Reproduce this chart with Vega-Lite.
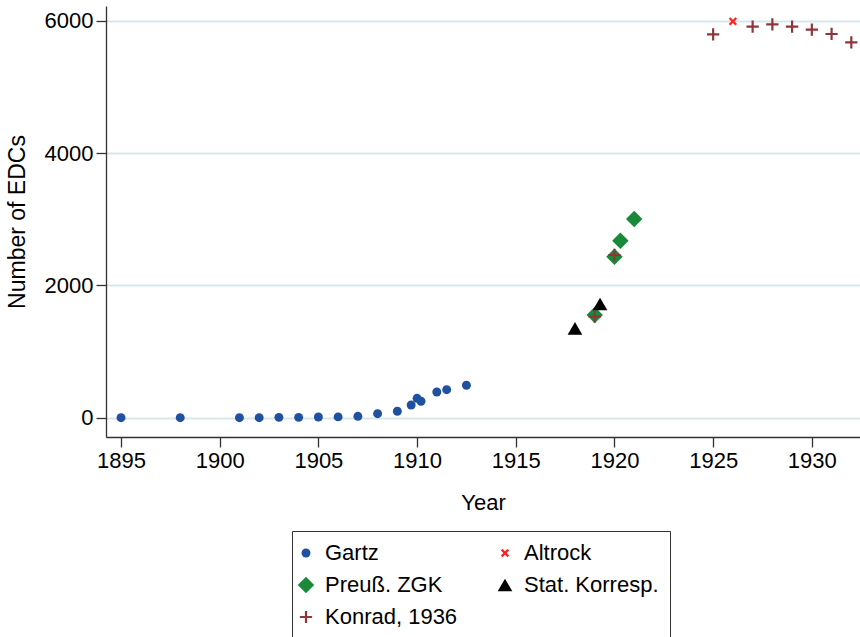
{
  "$schema": "https://vega.github.io/schema/vega-lite/v6.json",
  "autosize": "none",
  "width": 754,
  "height": 431,
  "padding": {"left": 106, "top": 6, "right": 0, "bottom": 200},
  "background": "white",
  "config": {
    "view": {"stroke": null},
    "font": "Liberation Sans",
    "axis": {
      "labelFont": "Liberation Sans",
      "titleFont": "Liberation Sans",
      "labelFontSize": 22,
      "titleFontSize": 22,
      "titleFontWeight": "normal",
      "labelColor": "#000000",
      "titleColor": "#000000",
      "domainColor": "#333333",
      "domainWidth": 1.3,
      "tickColor": "#333333",
      "tickWidth": 1.3,
      "tickSize": 10
    },
    "legend": {
      "labelFont": "Liberation Sans",
      "labelFontSize": 22,
      "labelColor": "#000000",
      "symbolOpacity": 1
    }
  },
  "data": {
    "values": [
      {"source": "Gartz", "year": 1895, "n": 0},
      {"source": "Gartz", "year": 1898, "n": 0},
      {"source": "Gartz", "year": 1901, "n": 0},
      {"source": "Gartz", "year": 1902, "n": 0},
      {"source": "Gartz", "year": 1903, "n": 5},
      {"source": "Gartz", "year": 1904, "n": 5},
      {"source": "Gartz", "year": 1905, "n": 10},
      {"source": "Gartz", "year": 1906, "n": 12},
      {"source": "Gartz", "year": 1907, "n": 21},
      {"source": "Gartz", "year": 1908, "n": 60},
      {"source": "Gartz", "year": 1909, "n": 97},
      {"source": "Gartz", "year": 1909.7, "n": 192},
      {"source": "Gartz", "year": 1910, "n": 293},
      {"source": "Gartz", "year": 1910.2, "n": 248},
      {"source": "Gartz", "year": 1911, "n": 388},
      {"source": "Gartz", "year": 1911.5, "n": 423},
      {"source": "Gartz", "year": 1912.5, "n": 490},
      {"source": "Preuß. ZGK", "year": 1919, "n": 1552},
      {"source": "Preuß. ZGK", "year": 1920, "n": 2433},
      {"source": "Preuß. ZGK", "year": 1920.3, "n": 2675},
      {"source": "Preuß. ZGK", "year": 1921, "n": 3003},
      {"source": "Stat. Korresp.", "year": 1918, "n": 1351},
      {"source": "Stat. Korresp.", "year": 1919.27, "n": 1718},
      {"source": "Altrock", "year": 1926, "n": 5990},
      {"source": "Konrad, 1936", "year": 1919, "n": 1526},
      {"source": "Konrad, 1936", "year": 1920, "n": 2459},
      {"source": "Konrad, 1936", "year": 1925, "n": 5794},
      {"source": "Konrad, 1936", "year": 1927, "n": 5909},
      {"source": "Konrad, 1936", "year": 1928, "n": 5945},
      {"source": "Konrad, 1936", "year": 1929, "n": 5909},
      {"source": "Konrad, 1936", "year": 1930, "n": 5864},
      {"source": "Konrad, 1936", "year": 1931, "n": 5799},
      {"source": "Konrad, 1936", "year": 1932, "n": 5673}
    ]
  },
  "mark": {"type": "point", "strokeWidth": 2.2, "opacity": 1},
  "encoding": {
    "x": {
      "field": "year",
      "type": "quantitative",
      "title": "Year",
      "scale": {"domain": [1894.24, 1932.44], "nice": false, "zero": false},
      "axis": {
        "values": [1895, 1900, 1905, 1910, 1915, 1920, 1925, 1930],
        "format": "d",
        "grid": false,
        "labelPadding": 3,
        "titlePadding": 21
      }
    },
    "y": {
      "field": "n",
      "type": "quantitative",
      "title": "Number of EDCs",
      "scale": {"domain": [-292, 6222], "nice": false, "zero": false},
      "axis": {
        "values": [0, 2000, 4000, 6000],
        "format": "d",
        "grid": true,
        "gridColor": "#d7e7e9",
        "gridWidth": 2,
        "labelPadding": 3,
        "titlePadding": 15,
        "titleFontSize": 23
      }
    },
    "fill": {
      "field": "source",
      "type": "nominal",
      "scale": {
        "domain": ["Gartz", "Preuß. ZGK", "Konrad, 1936", "Altrock", "Stat. Korresp."],
        "range": ["#1f51a0", "#1a8a3a", "transparent", "transparent", "#000000"]
      },
      "legend": {
        "title": null,
        "orient": "none",
        "legendX": 186,
        "legendY": 525,
        "columns": 2,
        "strokeColor": "#333333",
        "padding": 11,
        "rowPadding": 8,
        "columnPadding": 35,
        "labelOffset": 8,
        "symbolOffset": -8,
        "symbolStrokeWidth": 2.2
      }
    },
    "stroke": {
      "field": "source",
      "type": "nominal",
      "scale": {
        "domain": ["Gartz", "Preuß. ZGK", "Konrad, 1936", "Altrock", "Stat. Korresp."],
        "range": ["transparent", "transparent", "#90353b", "#ff2020", "transparent"]
      },
      "legend": {"title": null}
    },
    "shape": {
      "field": "source",
      "type": "nominal",
      "scale": {
        "domain": ["Gartz", "Preuß. ZGK", "Konrad, 1936", "Altrock", "Stat. Korresp."],
        "range": ["circle", "diamond", "M-1,0L1,0M0,-1L0,1", "M-1,-1L1,1M-1,1L1,-1", "triangle-up"]
      },
      "legend": {"title": null}
    },
    "size": {
      "field": "source",
      "type": "nominal",
      "scale": {
        "type": "ordinal",
        "domain": ["Gartz", "Preuß. ZGK", "Konrad, 1936", "Altrock", "Stat. Korresp."],
        "range": [80, 270, 150, 45, 215]
      },
      "legend": {"title": null}
    }
  }
}
